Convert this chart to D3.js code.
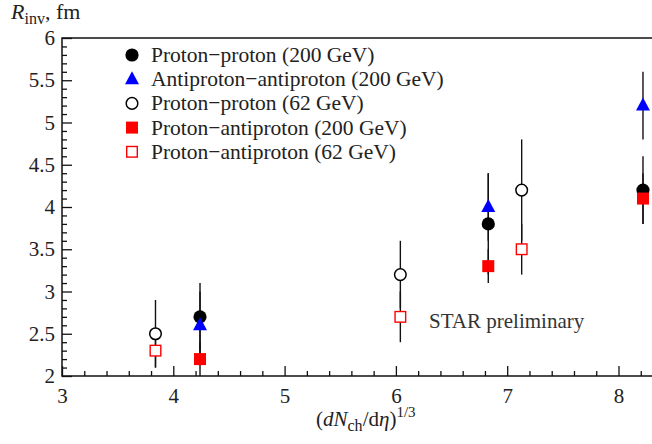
<!DOCTYPE html>
<html>
<head>
<meta charset="utf-8">
<script src="https://cdn.jsdelivr.net/npm/d3@7"></script>
<style>
  body { margin: 0; background: #fff; }
</style>
</head>
<body>
<svg id="chart"></svg>
<script>
// Data
const seriesNames = [
    "Proton\u2212proton (200 GeV)",
    "Antiproton\u2212antiproton (200 GeV)",
    "Proton\u2212proton (62 GeV)",
    "Proton\u2212antiproton (200 GeV)",
    "Proton\u2212antiproton (62 GeV)"
];
const x200 = [4.24, 6.83, 8.22];
const x62 = [3.84, 6.04, 7.13];
const ppY200 = [2.7, 3.8, 4.2];
const ppErr200 = [0.4, 0.6, 0.4];
const apapY200 = [2.6, 4.0, 5.2];
const apapErr200 = [0.4, 0.4, 0.4];
const ppY62 = [2.5, 3.2, 4.2];
const ppErr62 = [0.4, 0.4, 0.6];
const papY200 = [2.2, 3.3, 4.1];
const papErr200 = [0.2, 0.2, 0.3];
const papY62 = [2.3, 2.7, 3.5];
const papErr62 = [0.2, 0.3, 0.3];
const xTicks = [3, 4, 5, 6, 7, 8];
const yTicks = [2, 2.5, 3, 3.5, 4, 4.5, 5, 5.5, 6];

const FONT = "'Liberation Serif'";

const svgWidth = 652, svgHeight = 444;
const margin = { top: 38, right: -3, bottom: 68, left: 62 };
const width = svgWidth - margin.left - margin.right;
const height = svgHeight - margin.top - margin.bottom;

const svg = d3.select("#chart").attr("width", svgWidth).attr("height", svgHeight)
    .style("font-family", FONT);
const chart = svg.append("g").attr("transform", `translate(${margin.left},${margin.top})`);

const xScale = d3.scaleLinear().domain([3, 3 + width / 111.3]).range([0, width]);
const yScale = d3.scaleLinear().domain([2, 6]).range([height, 0]);

// minor ticks
const xMinor = d3.range(3, 8.35, 0.2).filter(v => Math.abs(v - Math.round(v)) > 1e-6);
const yMinor = d3.range(2, 6.001, 0.1).filter(v => Math.abs(v * 2 - Math.round(v * 2)) > 1e-6);

chart.append("g").attr("transform", `translate(0,${height})`)
    .call(d3.axisBottom(xScale).tickValues(xMinor).tickSize(-5).tickFormat(""))
    .call(g => g.select(".domain").remove());
chart.append("g").attr("transform", `translate(0,${height})`)
    .call(d3.axisBottom(xScale).tickValues(xTicks).tickSize(-10).tickFormat(d3.format("d")))
    .call(g => g.select(".domain").remove())
    .call(g => g.selectAll("text").attr("y", 12).attr("font-size", 21)
        .style("font-family", FONT).attr("fill", "#222"));

chart.append("g")
    .call(d3.axisLeft(yScale).tickValues(yMinor).tickSize(-5).tickFormat(""))
    .call(g => g.select(".domain").remove());
chart.append("g")
    .call(d3.axisLeft(yScale).tickValues(yTicks).tickSize(-10).tickFormat(d => d))
    .call(g => g.select(".domain").remove())
    .call(g => g.selectAll("text").attr("x", -7).attr("font-size", 21)
        .style("font-family", FONT).attr("fill", "#222"));

chart.selectAll(".tick line").attr("stroke", "#111").attr("stroke-width", 1.3);

// frame: left, bottom, top
chart.append("path")
    .attr("d", `M${width},0H0V${height}H${width}`)
    .attr("fill", "none").attr("stroke", "#111").attr("stroke-width", 1.5);

const series = [
    { name: seriesNames[0], xs: x200, ys: ppY200, errs: ppErr200, shape: "circle", fill: "#000", stroke: "#000" },
    { name: seriesNames[1], xs: x200, ys: apapY200, errs: apapErr200, shape: "triangle", fill: "#0000ff", stroke: "#0000ff" },
    { name: seriesNames[2], xs: x62, ys: ppY62, errs: ppErr62, shape: "circle", fill: "#fff", stroke: "#000" },
    { name: seriesNames[3], xs: x200, ys: papY200, errs: papErr200, shape: "square", fill: "#ff0000", stroke: "#ff0000" },
    { name: seriesNames[4], xs: x62, ys: papY62, errs: papErr62, shape: "square", fill: "#fff", stroke: "#ff0000" }
];

function drawMarker(g, s, cx, cy) {
    if (s.shape === "circle") {
        const open = s.fill === "#fff";
        g.append("circle").attr("cx", cx).attr("cy", cy).attr("r", open ? 5.8 : 6.6)
            .attr("fill", s.fill).attr("stroke", s.stroke).attr("stroke-width", open ? 1.5 : 0);
    } else if (s.shape === "triangle") {
        g.append("path").attr("d", `M${cx},${cy - 8}L${cx + 7},${cy + 5}L${cx - 7},${cy + 5}Z`)
            .attr("fill", s.fill);
    } else {
        const open = s.fill === "#fff";
        const a = open ? 5.3 : 6;
        g.append("rect").attr("x", cx - a).attr("y", cy - a).attr("width", 2 * a).attr("height", 2 * a)
            .attr("fill", s.fill).attr("stroke", s.stroke).attr("stroke-width", open ? 1.4 : 0);
    }
}

// error bars first
series.forEach(s => {
    chart.append("g").selectAll("line")
        .data(s.xs.map((x, i) => ({ x, y: s.ys[i], e: s.errs[i] })))
        .enter().append("line")
        .attr("x1", d => xScale(d.x)).attr("x2", d => xScale(d.x))
        .attr("y1", d => yScale(d.y - d.e)).attr("y2", d => yScale(d.y + d.e))
        .attr("stroke", "#111").attr("stroke-width", 1.4);
});

series.forEach(s => {
    const g = chart.append("g");
    s.xs.forEach((x, i) => drawMarker(g, s, xScale(x), yScale(s.ys[i])));
});

// legend
const legend = svg.append("g");
series.forEach((s, i) => {
    const ly = 55 + i * 24.2;
    drawMarker(legend, s, 132, ly);
    legend.append("text").attr("x", 151).attr("y", ly + 7)
        .style("font-family", FONT).attr("font-size", 21.5).attr("fill", "#222").text(s.name);
});

svg.append("text").attr("x", 429).attr("y", 328).style("font-family", FONT)
    .attr("font-size", 21).attr("fill", "#333").text("STAR preliminary");

// axis titles
const yTitle = svg.append("text").attr("x", 11).attr("y", 19).style("font-family", FONT)
    .attr("font-size", 22).attr("fill", "#222");
yTitle.append("tspan").attr("font-style", "italic").text("R");
yTitle.append("tspan").attr("font-size", 16).attr("dy", 5).text("inv");
yTitle.append("tspan").attr("dy", -5).text(", fm");

const xTitle = svg.append("text").attr("x", 316).attr("y", 426).style("font-family", FONT)
    .attr("font-size", 21).attr("fill", "#222");
xTitle.append("tspan").text("(");
xTitle.append("tspan").attr("font-style", "italic").text("dN");
xTitle.append("tspan").attr("font-size", 16).attr("dy", 5).text("ch");
xTitle.append("tspan").attr("dy", -5).text("/d");
xTitle.append("tspan").attr("font-style", "italic").text("\u03b7");
xTitle.append("tspan").text(")");
xTitle.append("tspan").attr("font-size", 15).attr("dy", -9).text("1/3");
</script>
</body>
</html>
